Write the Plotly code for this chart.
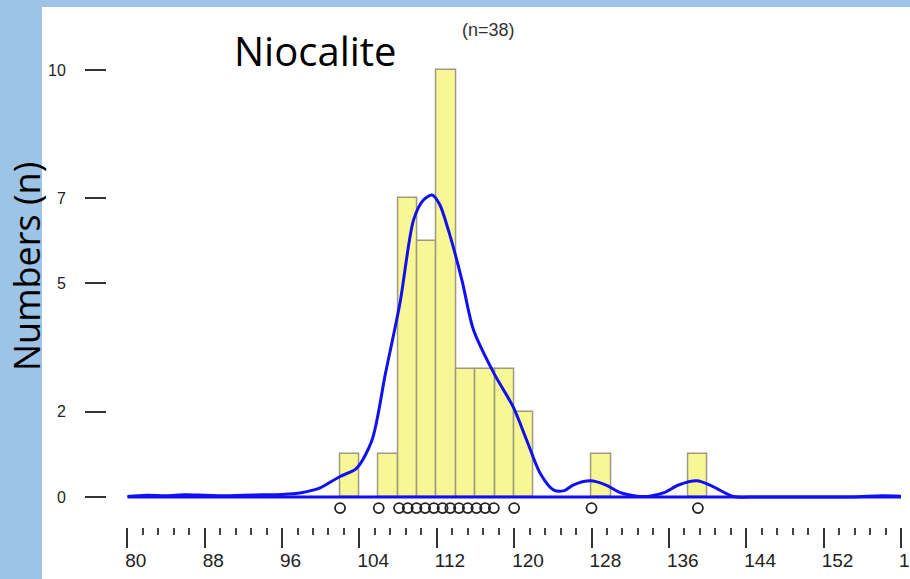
import plotly.graph_objects as go

# ---- data ----
bin_left = [102, 106, 108, 110, 112, 114, 116, 118, 120, 128, 138]
bin_count = [1, 1, 7, 6, 10, 3, 3, 3, 2, 1, 1]
bin_width = 2

dens_x = [80, 82, 84, 86, 88, 90, 92, 94, 96, 98, 99.2, 100, 102, 103.7, 105.3, 106.7,
          108.2, 109.6, 110.6, 111.5, 112.3, 113.2, 114.6, 115.8, 117.9, 119.9, 121.3,
          122.7, 124.1, 125.2, 126.1, 127.9, 129.5, 131, 132.7, 134, 135.5, 137, 138.9,
          140.5, 142.7, 145, 150, 155, 158, 160]
dens_y = [0.01, 0.04, 0.03, 0.05, 0.04, 0.03, 0.04, 0.05, 0.06, 0.10, 0.16, 0.22, 0.48,
          0.67, 1.33, 2.90, 4.55, 6.49, 6.95, 7.07, 6.85, 6.25, 5.08, 3.91, 2.90, 2.11,
          1.33, 0.55, 0.16, 0.15, 0.28, 0.38, 0.28, 0.10, 0.02, 0.02, 0.10, 0.28, 0.38,
          0.25, 0.01, 0.0, 0.0, 0.0, 0.03, 0.02]

rug_x = [102.0, 106.0, 108.1, 109.0, 109.9, 110.8, 111.7, 112.6, 113.4, 114.3, 115.2,
         116.1, 117.0, 117.9, 120.0, 128.0, 139.0]

y_tickvals = [0, 2, 5, 7, 10]
x_tickvals = list(range(80, 161, 8))

title_text = "Niocalite"
n_text = "(n=38)"
y_title = "Numbers (n)"

# ---- figure ----
BLUE_BG = "#9dc3e6"
W, H = 910, 579
ML, MR, MT, MB = 106, 9, 15, 52
PW, PH = W - ML - MR, H - MT - MB

def px_x(p):
    return (p - ML) / PW

def px_y(p):
    return (H - MB - p) / PH

fig = go.Figure()

fig.add_trace(go.Bar(
    x=[b + bin_width / 2 for b in bin_left], y=bin_count, width=bin_width,
    marker=dict(color="#f7f796", line=dict(color="#9e9a80", width=1.5)),
    hoverinfo="skip", showlegend=False))

fig.add_trace(go.Scatter(
    x=[80, 160], y=[0, 0], mode="lines",
    line=dict(color="#1010f0", width=3), showlegend=False, hoverinfo="skip"))

fig.add_trace(go.Scatter(
    x=dens_x, y=dens_y, mode="lines",
    line=dict(color="#1010f0", width=3, shape="spline", smoothing=0.8),
    showlegend=False, hoverinfo="skip"))

fig.add_trace(go.Scatter(
    x=rug_x, y=[-0.26] * len(rug_x), mode="markers",
    marker=dict(symbol="circle-open", size=10, color="#222222", line=dict(width=1.8)),
    showlegend=False, hoverinfo="skip"))

shapes = [
    dict(type="rect", xref="paper", yref="paper", layer="below",
         x0=px_x(0), x1=px_x(42), y0=px_y(H), y1=px_y(0),
         fillcolor=BLUE_BG, line=dict(width=0)),
    dict(type="rect", xref="paper", yref="paper", layer="below",
         x0=px_x(42), x1=px_x(W), y0=px_y(7), y1=px_y(0),
         fillcolor=BLUE_BG, line=dict(width=0)),
]

annotations = [
    dict(text=title_text, x=99.5, y=10.45, xref="x", yref="y", showarrow=False,
         font=dict(family="Open Sans", size=40, color="#000000"),
         xanchor="center", yanchor="middle"),
    dict(text=n_text, x=117.3, y=10.94, xref="x", yref="y", showarrow=False,
         font=dict(family="Liberation Sans", size=18, color="#333333"),
         xanchor="center", yanchor="middle"),
    dict(text=y_title, x=px_x(26), y=px_y(267), xref="paper", yref="paper",
         showarrow=False, textangle=-90,
         font=dict(family="Open Sans", size=36, color="#000000"),
         xanchor="center", yanchor="middle"),
]

fig.update_layout(
    width=W, height=H,
    margin=dict(l=ML, r=MR, t=MT, b=MB, pad=0, autoexpand=False),
    paper_bgcolor="white", plot_bgcolor="white",
    bargap=0, shapes=shapes, annotations=annotations,
    xaxis=dict(range=[80, 160], domain=[(127.3 - ML) / PW, 1], anchor="y",
               automargin=False,
               showgrid=False, zeroline=False, showline=False,
               tickmode="array", tickvals=x_tickvals,
               ticks="outside", ticklen=20, tickwidth=2, tickcolor="#333333",
               ticklabelposition="outside right", ticklabelstandoff=16,
               ticklabelshift=-3, ticklabeloverflow="allow",
               tickfont=dict(family="Liberation Sans", size=19, color="#222222"),
               minor=dict(dtick=1.6, tick0=80, ticks="outside", ticklen=7,
                          tickwidth=1.5, tickcolor="#444444", showgrid=False)),
    yaxis=dict(range=[-0.703, 11.288], anchor="free", position=0,
               automargin=False,
               showgrid=False, zeroline=False, showline=False,
               tickmode="array", tickvals=y_tickvals,
               ticks="outside", ticklen=21, tickwidth=2, tickcolor="#333333",
               ticklabelstandoff=16,
               tickfont=dict(family="Liberation Sans", size=16, color="#222222")),
)

fig.write_html("out.html", config={"displayModeBar": False},
               post_script="document.body.style.margin='0';document.body.style.overflow='hidden';")
